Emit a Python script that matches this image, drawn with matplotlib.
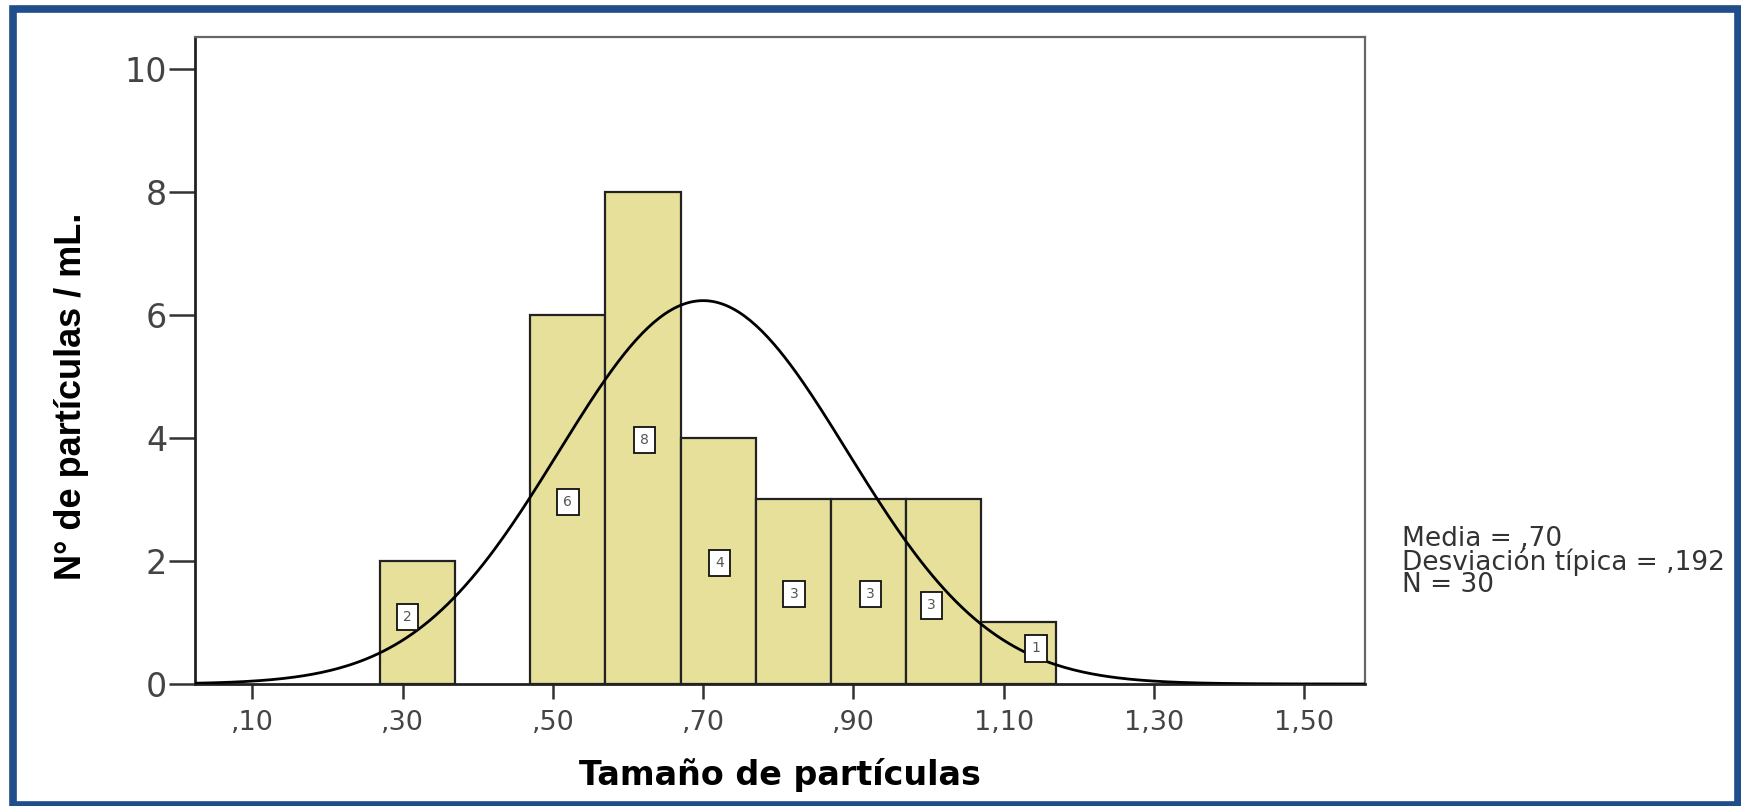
import numpy as np
import matplotlib.pyplot as plt
from matplotlib.patches import Rectangle

plt.rcParams['font.family'] = ['DejaVu Sans']

# histogram data (bin edges, width .10)
bin_edges = [0.27, 0.37, 0.47, 0.57, 0.67, 0.77, 0.87, 0.97, 1.07, 1.17]
counts = [2, 0, 6, 8, 4, 3, 3, 3, 1]
media = 0.70
desv = 0.192
n_total = 30

# where SPSS put the count boxes (nudged off the curve on some bars)
label_x = [0.306, None, 0.52, 0.622, 0.722, 0.821, 0.923, 1.004, 1.143]
label_y = [1.09, None, 2.96, 3.97, 1.97, 1.46, 1.46, 1.28, 0.58]

xticks = [0.10, 0.30, 0.50, 0.70, 0.90, 1.10, 1.30, 1.50]
xticklabels = [',10', ',30', ',50', ',70', ',90', '1,10', '1,30', '1,50']
yticks = [0, 2, 4, 6, 8, 10]

W, H = 1741, 806
fig = plt.figure(figsize=(W / 100, H / 100), dpi=100)

# blue outer frame
fig.patches.append(Rectangle((12.5 / W, 1 - 805 / H), (1738 - 12.5) / W, (805 - 9) / H,
                             transform=fig.transFigure, fill=False,
                             edgecolor='#1f4e8a', linewidth=5.5))

ax = fig.add_axes([195 / W, 1 - 684 / H, 1170 / W, 647 / H])

widths = np.diff(bin_edges)
for i, (left, w, c) in enumerate(zip(bin_edges[:-1], widths, counts)):
    if c == 0:
        continue
    ax.bar(left, c, width=w, align='edge', color='#e6e09a',
           edgecolor='#222222', linewidth=1.6, zorder=2)
    ax.text(label_x[i], label_y[i], str(c), ha='center', va='center',
            fontsize=10, color='#555555', zorder=4,
            bbox=dict(boxstyle='square,pad=0.45', facecolor='white',
                      edgecolor='#111111', linewidth=1.3))

# normal curve fitted to the data
xs = np.linspace(0.02, 1.58, 400)
binw = 0.10
ys = n_total * binw / (desv * np.sqrt(2 * np.pi)) * np.exp(-0.5 * ((xs - media) / desv) ** 2)
ax.plot(xs, ys, color='black', linewidth=2.0, zorder=3)

ax.set_xlim(0.0236, 1.581)
ax.set_ylim(0, 10.52)
ax.set_xticks(xticks)
ax.set_xticklabels(xticklabels)
ax.set_yticks(yticks)

ax.tick_params(axis='y', length=19, width=1.8, color='#333333',
               labelsize=24, labelcolor='#444444', pad=1)
ax.tick_params(axis='x', length=11, width=1.8, color='#333333',
               labelsize=19.5, labelcolor='#444444', pad=8)

for side in ['left', 'bottom']:
    ax.spines[side].set_color('#222222')
    ax.spines[side].set_linewidth(2.0)
for side in ['top', 'right']:
    ax.spines[side].set_color('#666666')
    ax.spines[side].set_linewidth(1.6)

fig.text(780 / W, 1 - 785 / H, 'Tamaño de partículas', ha='center', va='baseline',
         fontsize=24, fontweight='bold')
fig.text(72 / W, 1 - 396 / H, 'N° de partículas / mL.', rotation=90,
         ha='center', va='center', fontsize=26, fontweight='bold',
         family=['Liberation Sans', 'DejaVu Sans'])

fig.text(1402 / W, 1 - 526 / H,
         'Media = ,70\nDesviación típica = ,192\nN = 30',
         ha='left', va='top', fontsize=19, color='#333333', linespacing=0.8)

fig.savefig('out.png', dpi=100)
